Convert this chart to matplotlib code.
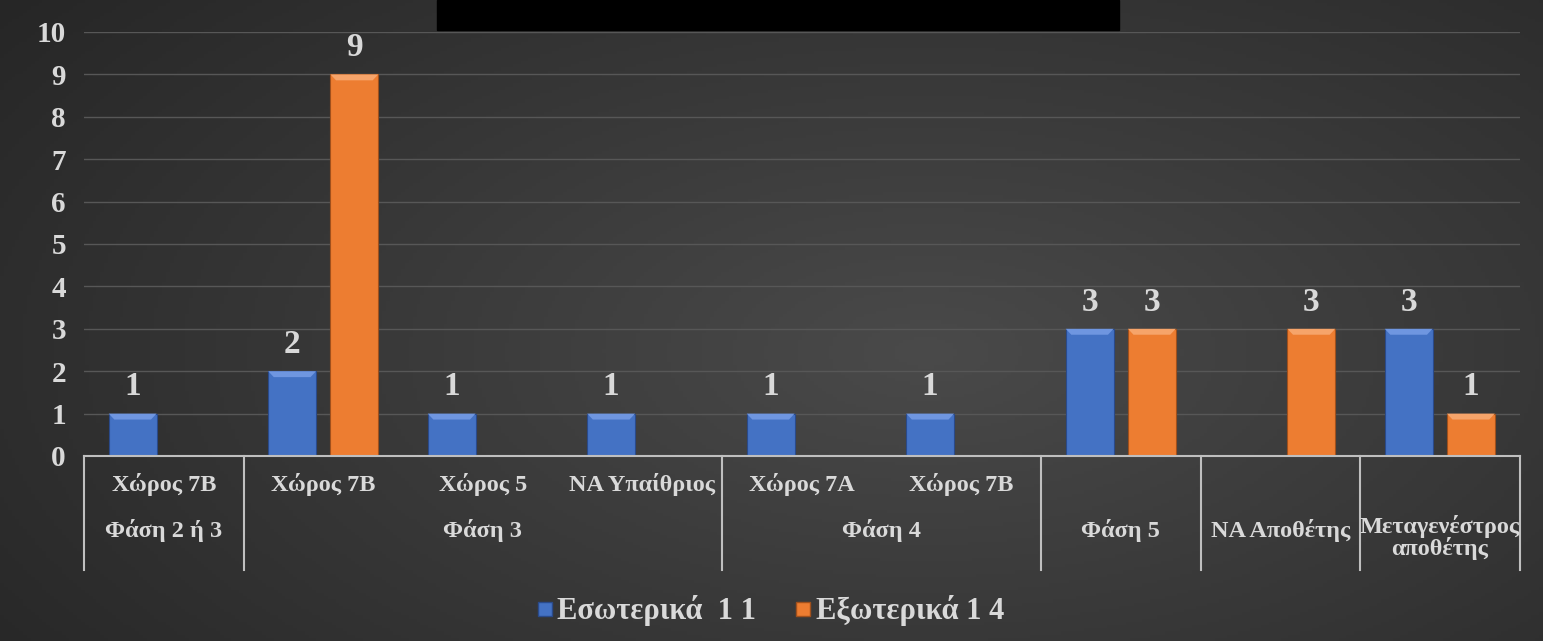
import numpy as np
import matplotlib
matplotlib.use("Agg")
import matplotlib.pyplot as plt
import matplotlib.transforms as mtrans
from matplotlib.patches import Polygon, Rectangle
from matplotlib.lines import Line2D

# ---- data ----
sub_labels = ["Χώρος 7Β", "Χώρος 7Β", "Χώρος 5", "ΝΑ Υπαίθριος", "Χώρος 7Α", "Χώρος 7Β", "", "", ""]
groups = ["Φάση 2 ή 3", "Φάση 3", "Φάση 4", "Φάση 5", "ΝΑ Αποθέτης", "Μεταγενέστρος\nαποθέτης"]
group_sizes = [1, 3, 2, 1, 1, 1]
internal = [1, 2, 1, 1, 1, 1, 3, np.nan, 3]
external = [np.nan, 9, np.nan, np.nan, np.nan, np.nan, 3, 3, 1]
series_names = ["Εσωτερικά  1 1", "Εξωτερικά 1 4"]
yticks = list(range(0, 11))

W, H = 1543, 641
fig = plt.figure(figsize=(W / 100, H / 100), dpi=100)
font = "Liberation Serif"
txtc = "#d9d9d9"

# background gradient
bg = fig.add_axes([0, 0, 1, 1], zorder=-10)
yy, xx = np.mgrid[0:1:200j, 0:1:400j]
d = np.sqrt(((xx - 0.6) / 0.75) ** 2 + ((yy - 0.55) / 0.9) ** 2)
val = np.clip(0.29 - 0.14 * d, 0.15, 0.30)
bg.imshow(np.dstack([val, val, val]), aspect="auto", extent=[0, 1, 0, 1], origin="upper")
bg.axis("off")

# title box
fig.patches.append(Rectangle((437 / W, 1 - 30 / H), (1119 - 437) / W, 30 / H,
                             transform=fig.transFigure, color="black", zorder=5))

ax = fig.add_axes([84 / W, 1 - 456 / H, (1519.5 - 84) / W, (456 - 32) / H])
ax.set_facecolor("none")
n = len(sub_labels)
x = np.arange(n)
bw = 0.30
off = 0.195
blue, orange = "#4472c4", "#ed7d31"
b1 = ax.bar(x - off, internal, bw, color=blue, edgecolor="#2a4a8a", linewidth=0.8, zorder=3)
b2 = ax.bar(x + off, external, bw, color=orange, edgecolor="#a0501c", linewidth=0.8, zorder=3)

# bevel highlights
for bars, light in ((b1, "#6f96e0"), (b2, "#f6a46a")):
    for r in bars:
        h = r.get_height()
        if not np.isfinite(h) or h <= 0:
            continue
        x0, w = r.get_x(), r.get_width()
        bv = 0.14
        ax.add_patch(Polygon([(x0, h), (x0 + w, h), (x0 + w - 0.035, h - bv), (x0 + 0.035, h - bv)],
                             closed=True, color=light, zorder=4, lw=0))

for bars, vals in ((b1, internal), (b2, external)):
    for r, v in zip(bars, vals):
        if np.isfinite(v):
            ax.text(r.get_x() + r.get_width() / 2, v + 0.63, f"{int(v)}", ha="center", va="center",
                    fontsize=24, fontweight="bold", family=font, color=txtc, zorder=5)

ax.set_xlim(-0.5, n - 0.5)
ax.set_ylim(0, 10)
ax.set_yticks(yticks)
ax.set_yticklabels([str(t) for t in yticks], fontsize=21, fontweight="bold", family=font, color=txtc)
ax.tick_params(axis="y", length=0, pad=13)
ax.set_xticks([])
ax.grid(axis="y", color="#575757", linewidth=1, zorder=0)
for s in ["top", "right", "left"]:
    ax.spines[s].set_visible(False)
ax.spines["bottom"].set_color("#bfbfbf")
ax.spines["bottom"].set_linewidth(1.5)
ax.spines["bottom"].set_zorder(6)

# multi-level category axis
tr = mtrans.blended_transform_factory(ax.transData, fig.transFigure)
y_top = 1 - 456 / H
y_bot = 1 - 570 / H
y_r1 = 1 - 484 / H
y_r2 = 1 - 530 / H
lab_kw = dict(transform=tr, ha="center", fontsize=17.5, fontweight="bold", family=font,
              color=txtc, clip_on=False)
for i, lab in enumerate(sub_labels):
    if lab:
        ax.text(i, y_r1, lab, va="center", **lab_kw)
start = 0
bounds = [-0.5]
for g, sz in zip(groups, group_sizes):
    c = start + (sz - 1) / 2
    if "\n" in g:
        ax.text(c, y_r2 + 0.024, g, va="top", linespacing=0.95, **lab_kw)
    else:
        ax.text(c, y_r2, g, va="center", **lab_kw)
    start += sz
    bounds.append(start - 0.5)
for b in bounds:
    ax.add_line(Line2D([b, b], [y_top, y_bot], transform=tr, color="#bfbfbf", lw=1.5, clip_on=False))

# legend
handles = [Line2D([], [], marker="s", ls="", markersize=10, markerfacecolor=blue, markeredgecolor="#2a4a8a"),
           Line2D([], [], marker="s", ls="", markersize=10, markerfacecolor=orange, markeredgecolor="#a0501c")]
leg = fig.legend(handles, series_names, loc="center", bbox_to_anchor=(769 / W, 1 - 611 / H), ncol=2,
                 frameon=False, handletextpad=0.05, columnspacing=1.2, handlelength=0.7,
                 prop={"family": font, "weight": "bold", "size": 22})
for t in leg.get_texts():
    t.set_color(txtc)

fig.savefig("out.png", dpi=100)
